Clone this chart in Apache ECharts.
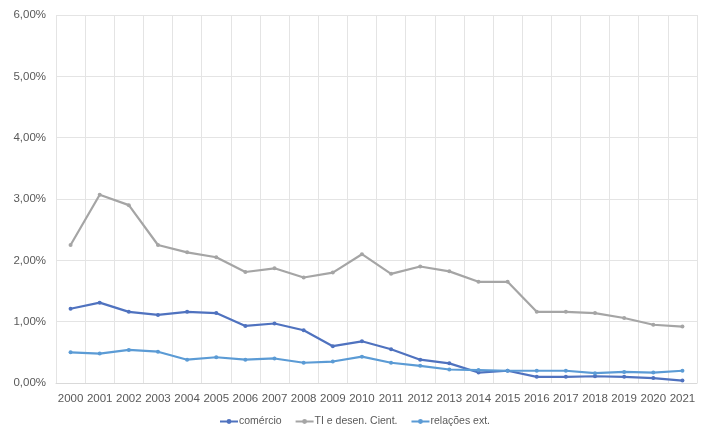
<!DOCTYPE html>
<html><head><meta charset="utf-8">
<script src="https://cdn.jsdelivr.net/npm/echarts@6/dist/echarts.min.js"></script>
<style>html,body{margin:0;padding:0;background:#fff}#c{width:709px;height:435px}</style>
</head><body><div id="c"></div>
<script>
const years = ['2000','2001','2002','2003','2004','2005','2006','2007','2008','2009','2010','2011','2012','2013','2014','2015','2016','2017','2018','2019','2020','2021'];
const comercio = [1.21,1.31,1.16,1.11,1.16,1.14,0.93,0.97,0.86,0.60,0.68,0.55,0.38,0.32,0.17,0.20,0.10,0.10,0.11,0.10,0.08,0.04];
const tiDesen = [2.25,3.07,2.90,2.25,2.13,2.05,1.81,1.87,1.72,1.80,2.10,1.78,1.90,1.82,1.65,1.65,1.16,1.16,1.14,1.06,0.95,0.92];
const relacoes = [0.50,0.48,0.54,0.51,0.38,0.42,0.38,0.40,0.33,0.35,0.43,0.33,0.28,0.22,0.21,0.20,0.20,0.20,0.16,0.18,0.17,0.20];
const names = ['comércio','TI e desen. Cient.','relações ext.'];
const colors = ['#4F72BF','#A5A5A5','#5B9BD5'];
const font = 'Liberation Sans, Arial, sans-serif';
const mk = (name, data, color) => ({
  name, type:'line', data, symbol:'circle', symbolSize:4,
  lineStyle:{color, width:2.2}, itemStyle:{color}
});
const chart = echarts.init(document.getElementById('c'));
chart.setOption({
  animation:false,
  textStyle:{fontFamily:font},
  grid:{left:56,right:12,top:15,bottom:52,containLabel:false},
  legend:{show:true,bottom:3,left:'center',itemWidth:18,itemHeight:6,itemGap:13,
    textStyle:{color:'#595959',fontSize:10.5,fontFamily:font,padding:[0,0,0,-4]},data:names},
  xAxis:{type:'category',data:years,boundaryGap:true,
    axisLine:{lineStyle:{color:'#D9D9D9'}},axisTick:{show:false},
    axisLabel:{color:'#595959',fontSize:11.5,margin:10,interval:0},
    splitLine:{show:true,lineStyle:{color:'#E4E4E4'}}},
  yAxis:{type:'value',min:0,max:6,interval:1,
    axisLine:{show:false},axisTick:{show:false},
    axisLabel:{color:'#595959',fontSize:11.5,margin:10,formatter:v=>v.toFixed(2).replace('.',',')+'%'},
    splitLine:{lineStyle:{color:'#E4E4E4'}}},
  series:[mk(names[0],comercio,colors[0]),mk(names[1],tiDesen,colors[1]),mk(names[2],relacoes,colors[2])]
});
</script></body></html>
